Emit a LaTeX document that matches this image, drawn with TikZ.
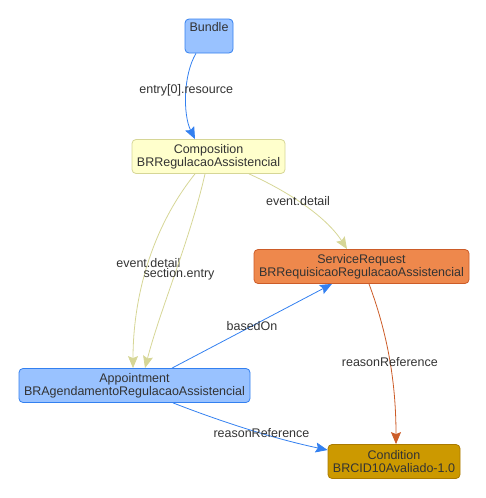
\documentclass[tikz,border=0pt]{standalone}
\usepackage{fontspec}
\setmainfont{Liberation Sans}
\usetikzlibrary{positioning, arrows.meta}
\definecolor{txt}{RGB}{51,51,51}
\definecolor{blueFill}{RGB}{153,194,255}
\definecolor{blueLine}{RGB}{51,128,240}
\definecolor{compFill}{RGB}{255,255,204}
\definecolor{compLine}{RGB}{214,214,150}
\definecolor{srFill}{RGB}{238,136,76}
\definecolor{srLine}{RGB}{204,92,40}
\definecolor{condFill}{RGB}{204,153,0}
\definecolor{condLine}{RGB}{170,122,0}
\tikzset{
    x=1pt, y=-1pt,
    >={Stealth[length=12pt,width=10pt,inset=2pt]}, % filled heads
    every node/.style={text=txt, font=\fontsize{12.5}{13.2}\selectfont},
    res/.style={draw, thick, rounded corners=4pt, align=center, minimum height=34pt, inner sep=2pt}, % resource boxes
    ref/.style={->, thick}, % the references
}
\begin{document}
\begin{tikzpicture}
    \useasboundingbox (0,0) rectangle (486,498);
    \node[res, fill=blueFill, draw=blueLine, minimum width=48pt] (bundle) at (209,36) {Bundle\\ \strut};
    \node[res, fill=compFill, draw=compLine, minimum width=153pt] (comp) at (208.5,156.5) {Composition\\BRRegulacaoAssistencial};
    \node[res, fill=srFill, draw=srLine, minimum width=215pt] (sr) at (361.5,266.5) {ServiceRequest\\BRRequisicaoRegulacaoAssistencial};
    \node[res, fill=blueFill, draw=blueLine, minimum width=231pt] (appt) at (134.5,385.5) {Appointment\\BRAgendamentoRegulacaoAssistencial};
    \node[res, fill=condFill, draw=condLine, minimum width=132pt] (cond) at (394,461.5) {Condition\\BRCID10Avaliado-1.0};

    \draw[ref, blueLine] ([xshift=-13pt]bundle.south) .. controls (183,75) and (183,115) .. node[pos=0.45]{entry[0].resource} ([xshift=-13.5pt]comp.north);
    \draw[ref, compLine] ([xshift=40.5pt]comp.south) .. controls (285,190) and (325,215) .. node[pos=0.45]{event.detail} ([xshift=-14.5pt]sr.north);
    \draw[ref, compLine] ([xshift=-13.5pt]comp.south) .. controls (150,230) and (133,300) .. node[pos=0.48]{event.detail} ([xshift=-1.5pt]appt.north);
    \draw[ref, compLine] ([xshift=-3.5pt]comp.south) .. controls (190,240) and (160,310) .. node[pos=0.5, xshift=4pt]{section.entry} ([xshift=10.5pt]appt.north);
    \draw[ref, blueLine] ([xshift=37.5pt]appt.north) -- node{basedOn} ([xshift=-29.5pt]sr.south);
    \draw[ref, srLine] ([xshift=7.5pt]sr.south) .. controls (390,340) and (396,390) .. node[pos=0.48]{reasonReference} ([xshift=2pt]cond.north);
    \draw[ref, blueLine] ([xshift=38.5pt]appt.south) .. controls (230,425) and (280,440) .. node[pos=0.55]{reasonReference} ([yshift=11.5pt]cond.west);
\end{tikzpicture}
\end{document}
